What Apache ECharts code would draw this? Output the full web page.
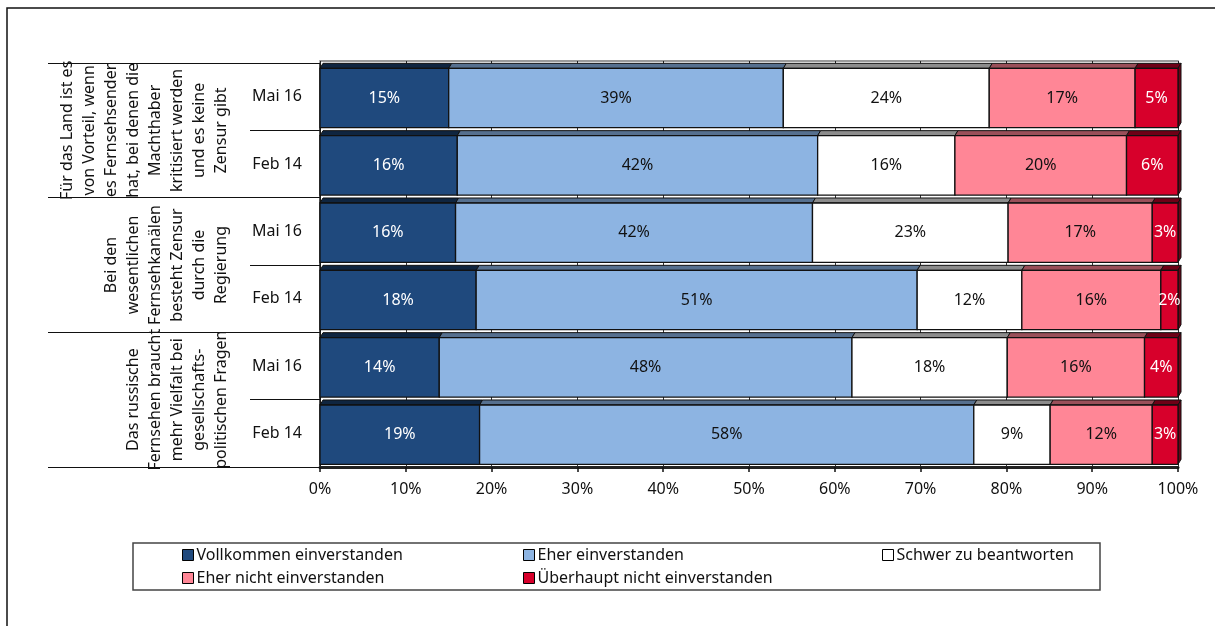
<!DOCTYPE html>
<html>
<head>
<meta charset="utf-8">
<script src="https://cdn.jsdelivr.net/npm/echarts@6/dist/echarts.min.js"></script>
<style>
  html, body { margin: 0; padding: 0; background: #ffffff; }
  #chart { width: 1215px; height: 626px; }
</style>
</head>
<body>
<div id="chart"></div>
<script>
// Statements (outer category level) and survey waves (inner level), top to bottom
const statements = [
  'Für das Land ist es\nvon Vorteil, wenn\nes Fernsehsender\nhat, bei denen die\nMachthaber\nkritisiert werden\nund es keine\nZensur gibt',
  'Bei den\nwesentlichen\nFernsehkanälen\nbesteht Zensur\ndurch die\nRegierung',
  'Das russische\nFernsehen braucht\nmehr Vielfalt bei\ngesellschafts-\npolitischen Fragen'
];
const waves = ['Mai 16', 'Feb 14', 'Mai 16', 'Feb 14', 'Mai 16', 'Feb 14'];

// Answer categories
const answerNames = [
  'Vollkommen einverstanden',
  'Eher einverstanden',
  'Schwer zu beantworten',
  'Eher nicht einverstanden',
  'Überhaupt nicht einverstanden'
];

// Shares in percent, one value per row (top to bottom)
const vollkommen = [15.0, 16.0, 15.8, 18.2, 13.9, 18.6];
const eherEinverstanden = [39.0, 42.0, 41.6, 51.4, 48.1, 57.6];
const schwer = [24.0, 16.0, 22.8, 12.2, 18.1, 8.9];
const eherNicht = [17.0, 20.0, 16.8, 16.2, 16.0, 11.9];
const ueberhauptNicht = [5.0, 6.0, 3.0, 2.0, 3.9, 3.0];

const xTickValues = [0, 10, 20, 30, 40, 50, 60, 70, 80, 90, 100];

const answerValues = [vollkommen, eherEinverstanden, schwer, eherNicht, ueberhauptNicht];

const frontColors = ['#1f497d', '#8db4e2', '#ffffff', '#ff8696', '#d7002b'];
const topColors = ['#0f2540', '#56708f', '#8c8c8c', '#9a4f59', '#6e0016'];
const labelColors = ['#ffffff', '#111111', '#111111', '#111111', '#ffffff'];
const FONT = '"Noto Sans", "Open Sans", sans-serif';

const depthX = 3, depthY = 5;
const lastSeries = answerValues.length - 1;

// Stacked segments: [start, end, row, value]
function buildSegments(s) {
  return answerValues[s].map(function (v, row) {
    let start = 0;
    for (let k = 0; k < s; k++) start += answerValues[k][row];
    return [start, start + v, row, v];
  });
}

function renderSegment(params, api) {
  const s = params.seriesIndex;
  const start = api.value(0), end = api.value(1), row = api.value(2), v = api.value(3);
  const band = api.size([0, 1])[1];
  const a = api.coord([start, row]);
  const b = api.coord([end, row]);
  const h = band * 0.882;
  const yc = a[1] + band * 0.02;
  const yT = yc - h / 2, yB = yc + h / 2;
  const x0 = a[0], x1 = b[0];
  const children = [
    {
      type: 'polygon',
      shape: { points: [[x0, yT], [x1, yT], [x1 + depthX, yT - depthY], [x0 + depthX, yT - depthY]] },
      style: { fill: topColors[s], stroke: '#111', lineWidth: 1 }
    }
  ];
  if (s === lastSeries) {
    children.push({
      type: 'polygon',
      shape: { points: [[x1, yT], [x1 + depthX, yT - depthY], [x1 + depthX, yB - depthY], [x1, yB]] },
      style: { fill: topColors[s], stroke: '#111', lineWidth: 1 }
    });
  }
  children.push({
    type: 'rect',
    shape: { x: x0, y: yT, width: x1 - x0, height: h },
    style: { fill: frontColors[s], stroke: '#111', lineWidth: 1.3 }
  });
  children.push({
    type: 'text',
    style: {
      text: Math.round(v) + '%',
      x: (x0 + x1) / 2, y: yc,
      align: 'center', verticalAlign: 'middle',
      fill: labelColors[s],
      font: '16px ' + FONT
    }
  });
  return { type: 'group', children: children };
}

const chart = echarts.init(document.getElementById('chart'), null, { renderer: 'canvas' });

const legendCommon = {
  orient: 'vertical',
  top: 547,
  padding: 0,
  itemGap: 7,
  itemWidth: 11,
  itemHeight: 11,
  icon: 'rect',
  selectedMode: false,
  itemStyle: { borderColor: '#000', borderWidth: 1 },
  textStyle: { fontFamily: FONT, fontSize: 16, color: '#111', padding: [0, 0, 0, -2] }
};

chart.setOption({
  animation: false,
  backgroundColor: '#ffffff',
  graphic: [
    {
      type: 'rect', silent: true,
      shape: { x: 7, y: 8, width: 1300, height: 700 },
      style: { fill: 'none', stroke: '#111', lineWidth: 1.5 }
    },
    {
      type: 'rect', silent: true,
      shape: { x: 133, y: 543, width: 967, height: 47 },
      style: { fill: 'none', stroke: '#444', lineWidth: 1.5 }
    }
  ],
  legend: [
    Object.assign({ left: 182, data: [answerNames[0], answerNames[3]] }, legendCommon),
    Object.assign({ left: 523, data: [answerNames[1], answerNames[4]] }, legendCommon),
    Object.assign({ left: 882, data: [answerNames[2]] }, legendCommon)
  ],
  grid: { left: 320, right: 37, top: 63, bottom: 159, containLabel: false },
  xAxis: [
    {
      type: 'value', min: 0, max: 100, interval: 10,
      axisLine: { show: true, lineStyle: { color: '#222', width: 3 } },
      axisTick: { show: true, length: 5, lineStyle: { color: '#111', width: 1.5 } },
      axisLabel: { formatter: '{value}%', fontFamily: FONT, fontSize: 16, color: '#111', margin: 14 },
      splitLine: { show: true, lineStyle: { color: '#333', width: 1 } }
    },
    {
      type: 'value', min: 0, max: 100, interval: 10, position: 'top', offset: 2,
      axisLine: { show: true, lineStyle: { color: '#9a9a9a', width: 2 } },
      axisTick: { show: true, inside: true, length: 3, lineStyle: { color: '#222' } },
      axisLabel: { show: false },
      splitLine: { show: false }
    }
  ],
  yAxis: [
    {
      type: 'category', data: waves, inverse: true, position: 'left', offset: 0,
      axisLine: { show: true, lineStyle: { color: '#111', width: 1.5 } },
      axisTick: { show: true, length: 70, lineStyle: { color: '#111', width: 1 } },
      axisLabel: { interval: 0, fontFamily: FONT, fontSize: 16, color: '#111', margin: 18 }
    },
    {
      type: 'category', data: statements, inverse: true, position: 'left', offset: 0,
      axisLine: { show: false },
      axisTick: { show: true, length: 272, lineStyle: { color: '#111', width: 1 } },
      axisLabel: {
        interval: 0, rotate: 90, fontFamily: FONT, fontSize: 16, color: '#111',
        lineHeight: 22, margin: 88, align: 'center'
      }
    }
  ],
  series: answerNames.map(function (name, s) {
    return {
      type: 'custom',
      name: name,
      xAxisIndex: 0,
      yAxisIndex: 0,
      itemStyle: { color: frontColors[s] },
      encode: { x: [0, 1], y: 2 },
      renderItem: renderSegment,
      data: buildSegments(s)
    };
  })
});
</script>
</body>
</html>
